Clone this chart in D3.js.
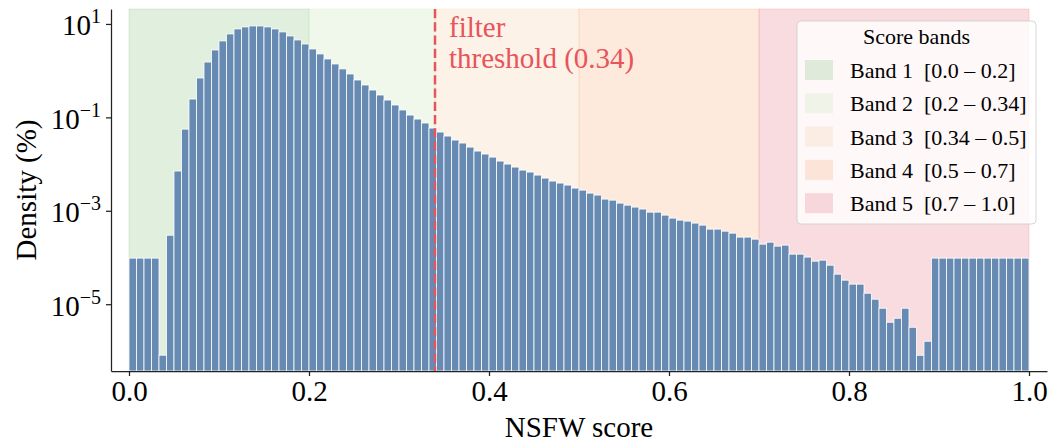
<!DOCTYPE html>
<html><head><meta charset="utf-8">
<script src="https://cdn.jsdelivr.net/npm/d3@7"></script>
<style>
body{margin:0;background:#fff;}
svg text{font-family:"Liberation Serif","Times New Roman",serif;}
</style></head><body>
<svg id="chart" width="1054" height="444"></svg>
<script>
// ---- data ----
const binWidth = 1 / 120;            // 120 histogram bins on [0, 1]
const density = [
  9.7e-5, 9.7e-5, 9.7e-5, 9.7e-5, 8.1e-7, 3.0e-4, 7.1e-3, 0.056, 0.247, 0.697,
  1.53, 2.77, 4.33, 6.11, 7.82, 8.63, 9.06, 9.06, 8.63, 7.82,
  6.75, 5.53, 4.54, 3.72, 2.91, 2.28, 1.78, 1.39, 1.09, 0.849,
  0.631, 0.493, 0.385, 0.301, 0.235, 0.184, 0.144, 0.112, 0.0920, 0.0757,
  0.0590, 0.0485, 0.0398, 0.0327, 0.0282, 0.0231, 0.0190, 0.0164, 0.0141, 0.0116,
  0.0100, 0.00863, 0.00743, 0.00675, 0.00581, 0.00501, 0.00433, 0.00392, 0.00355, 0.00306,
  0.00277, 0.00239, 0.00217, 0.00178, 0.00169, 0.00146, 0.00132, 0.00120, 0.00109, 0.000935,
  0.000935, 0.000807, 0.000697, 0.000631, 0.000601, 0.000545, 0.000493, 0.000405, 0.000405, 0.000366,
  0.000332, 0.000273, 0.000273, 0.000247, 0.000193, 0.000213, 0.000175, 0.000184, 0.000118, 0.000118,
  0.000102, 8.34e-5, 8.77e-5, 6.85e-5, 4.40e-5, 3.27e-5, 2.69e-5, 2.69e-5, 1.72e-5, 1.28e-5,
  8.20e-6, 4.11e-6, 5.01e-6, 8.20e-6, 3.21e-6, 8.07e-7, 1.61e-6, 9.7e-5, 9.7e-5, 9.7e-5,
  9.7e-5, 9.7e-5, 9.7e-5, 9.7e-5, 9.7e-5, 9.7e-5, 9.7e-5, 9.7e-5, 9.7e-5, 9.7e-5
];
const bandNames  = ["Band 1", "Band 2", "Band 3", "Band 4", "Band 5"];
const bandRanges = ["[0.0 – 0.2]", "[0.2 – 0.34]", "[0.34 – 0.5]", "[0.5 – 0.7]", "[0.7 – 1.0]"];
const bandStart  = [0.0, 0.2, 0.34, 0.5, 0.7];
const bandEnd    = [0.2, 0.34, 0.5, 0.7, 1.0];
const bandColors = ["#98ca91", "#cde8c0", "#f8d4b2", "#f8b98a", "#e88a94"];
const threshold = 0.34;
const xTicks = [0.0, 0.2, 0.4, 0.6, 0.8, 1.0];
const yTicks = [1e1, 1e-1, 1e-3, 1e-5];
const yTickExp = ["1", "−1", "−3", "−5"];

// ---- layout ----
const svg = d3.select("#chart");
const L = 111, R = 1047, T = 9, B = 371;
const x = d3.scaleLinear().domain([-0.02, 1.02]).range([L, R]);
const y = d3.scaleLog().domain([Math.pow(10, -6.43), Math.pow(10, 1.32)]).range([B, T]);
const red = "#e8545a";

// bands
svg.append("g").selectAll("rect").data(bandStart).join("rect")
  .attr("x", (d) => x(d))
  .attr("y", T)
  .attr("width", (d, i) => x(bandEnd[i]) - x(d))
  .attr("height", B - T)
  .attr("fill", (d, i) => bandColors[i])
  .attr("fill-opacity", 0.3)
  .attr("stroke", (d, i) => bandColors[i])
  .attr("stroke-opacity", 0.3)
  .attr("stroke-width", 1);

// bars
svg.append("g").selectAll("rect").data(density).join("rect")
  .attr("x", (d, i) => x(i * binWidth))
  .attr("width", (d, i) => x((i + 1) * binWidth) - x(i * binWidth))
  .attr("y", d => y(d))
  .attr("height", d => B - y(d))
  .attr("fill", "#668ab2")
  .attr("stroke", "#ffffff")
  .attr("stroke-width", 0.8);

// threshold line
svg.append("line")
  .attr("x1", x(threshold)).attr("x2", x(threshold))
  .attr("y1", T).attr("y2", B)
  .attr("stroke", red).attr("stroke-width", 2.5)
  .attr("stroke-dasharray", "9.25,4");

const thr = svg.append("text").attr("fill", red).attr("font-size", 29);
thr.append("tspan").attr("x", x(threshold) + 14).attr("y", 37).text("filter");
thr.append("tspan").attr("x", x(threshold) + 14).attr("y", 68).text("threshold (0.34)");

// axes
const xAxis = svg.append("g").attr("transform", `translate(0,${B})`)
  .call(d3.axisBottom(x).tickValues(xTicks).tickFormat(d3.format(".1f"))
        .tickSize(5).tickSizeOuter(0).tickPadding(4));
xAxis.selectAll("text").attr("font-size", 29).attr("fill", "#000")
  .attr("font-family", '"Liberation Serif", serif');

const yAxis = svg.append("g").attr("transform", `translate(${L},0)`)
  .call(d3.axisLeft(y).tickValues(yTicks).tickSize(5).tickSizeOuter(0).tickPadding(5)
        .tickFormat(() => ""));
yAxis.selectAll(".tick").each(function(d, i) {
  const t = d3.select(this).select("text")
    .attr("font-size", 29).attr("fill", "#000").attr("dy", "0.38em")
    .attr("font-family", '"Liberation Serif", serif');
  t.append("tspan").text("10");
  t.append("tspan").attr("font-size", 20).attr("dy", -12).text(yTickExp[i]);
});
svg.selectAll(".domain").attr("stroke", "#222").attr("stroke-width", 1.25);
svg.selectAll(".tick line").attr("stroke", "#222").attr("stroke-width", 1.25);

svg.append("text").attr("x", (L + R) / 2).attr("y", 437).attr("text-anchor", "middle")
  .attr("font-size", 29).text("NSFW score");
svg.append("text").attr("transform", `translate(36,${(T + B) / 2}) rotate(-90)`)
  .attr("text-anchor", "middle").attr("font-size", 29).text("Density (%)");

// legend
const lg = svg.append("g");
lg.append("rect").attr("x", 797).attr("y", 21).attr("width", 239).attr("height", 203)
  .attr("rx", 4).attr("fill", "#ffffff").attr("fill-opacity", 0.8)
  .attr("stroke", "#cccccc").attr("stroke-opacity", 0.8);
lg.append("text").attr("x", 916.5).attr("y", 44).attr("text-anchor", "middle")
  .attr("font-size", 22).text("Score bands");
const rows = lg.selectAll("g.row").data(bandNames).join("g").attr("class", "row")
  .attr("transform", (d, i) => `translate(0,${70 + i * 33.3})`);
rows.append("rect").attr("x", 805).attr("y", -10).attr("width", 28).attr("height", 20)
  .attr("fill", (d, i) => bandColors[i]).attr("fill-opacity", 0.3);
rows.append("text").attr("x", 850).attr("y", 8).attr("font-size", 22)
  .style("white-space", "pre")
  .text((d, i) => d + "  " + bandRanges[i]);
</script>
</body></html>
